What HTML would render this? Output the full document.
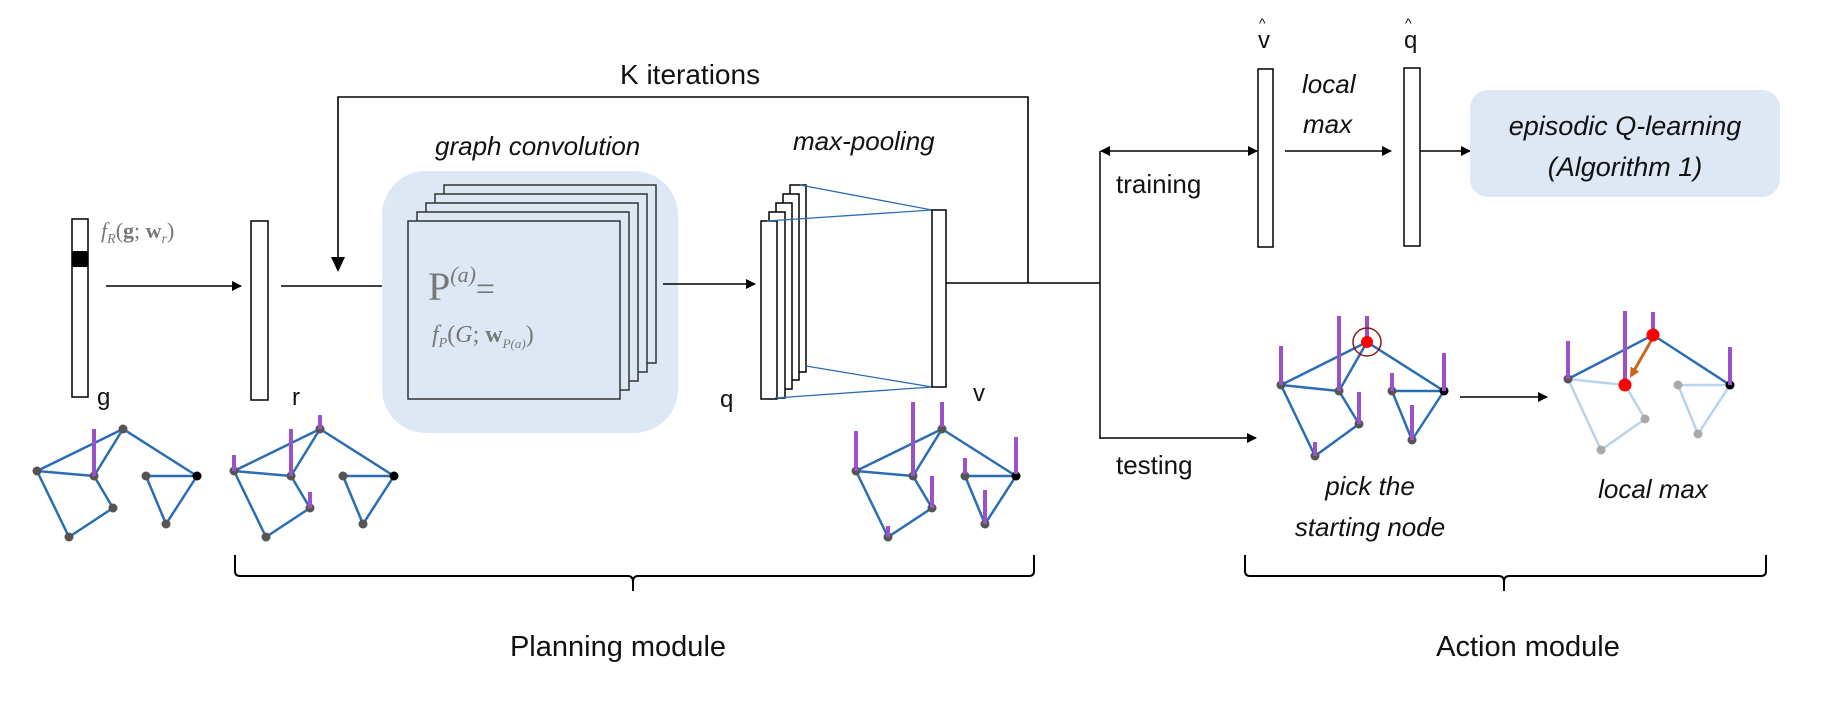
<!DOCTYPE html>
<html><head><meta charset="utf-8"><style>
html,body{margin:0;padding:0;background:#fff}
svg{display:block}
text{font-family:"Liberation Sans",sans-serif;fill:#111}
.it{font-style:italic}
.m{font-family:"Liberation Serif",serif;fill:#777}
</style></head><body>
<svg width="1842" height="708" viewBox="0 0 1842 708" xmlns="http://www.w3.org/2000/svg">
<defs>
<marker id="ah" markerWidth="10" markerHeight="10" refX="9" refY="5" orient="auto" markerUnits="userSpaceOnUse"><path d="M0,0 L10,5 L0,10 z" fill="#000"/></marker>
<marker id="ahs" markerWidth="10" markerHeight="10" refX="1" refY="5" orient="auto" markerUnits="userSpaceOnUse"><path d="M10,0 L0,5 L10,10 z" fill="#000"/></marker>
<marker id="ao" markerWidth="10" markerHeight="10" refX="8" refY="5" orient="auto" markerUnits="userSpaceOnUse"><path d="M0,0 L10,5 L0,10 z" fill="#c8661e"/></marker>
</defs>

<!-- K iterations loop -->
<text x="620" y="84" font-size="28">K iterations</text>
<polyline points="1028,283 1028,97 338,97 338,262" fill="none" stroke="#000" stroke-width="1.6"/>
<path d="M331,257 L345,257 L338,272 z" fill="#000"/>

<!-- g bar -->
<rect x="72" y="219" width="16" height="178" fill="#fff" stroke="#000" stroke-width="1.5"/>
<rect x="72" y="251" width="16" height="16" fill="#000"/>
<text class="m it" x="101" y="238" font-size="22">f<tspan font-size="14" dy="5">R</tspan><tspan dy="-5" font-style="normal">(</tspan><tspan font-style="normal" font-weight="bold">g</tspan><tspan font-style="normal">; </tspan><tspan font-style="normal" font-weight="bold">w</tspan><tspan font-size="14" dy="5">r</tspan><tspan dy="-5" font-style="normal">)</tspan></text>
<line x1="106" y1="286" x2="241" y2="286" stroke="#000" stroke-width="1.5" marker-end="url(#ah)"/>
<text x="97" y="405" font-size="24">g</text>

<!-- r bar -->
<rect x="251" y="221" width="17" height="179" fill="#fff" stroke="#000" stroke-width="1.5"/>
<line x1="281" y1="286" x2="408" y2="286" stroke="#000" stroke-width="1.5"/>
<text x="292" y="405" font-size="24">r</text>

<!-- graph convolution -->
<text class="it" x="435" y="155" font-size="26">graph convolution</text>
<rect x="382" y="171" width="296" height="262" rx="44" fill="#dde8f4"/>
<g fill="#dde8f4" stroke="#333" stroke-width="1.5">
<rect x="444" y="185" width="212" height="178"/>
<rect x="435" y="194" width="212" height="178"/>
<rect x="426" y="203" width="212" height="178"/>
<rect x="417" y="212" width="212" height="178"/>
<rect x="408" y="221" width="212" height="178"/>
</g>
<text class="m" x="428" y="300" font-size="40">P<tspan font-size="22" dy="-18" font-style="italic">(a)</tspan><tspan dy="18" font-size="34">=</tspan></text>
<text class="m it" x="432" y="342" font-size="24">f<tspan font-size="14" dy="5">P</tspan><tspan dy="-5" font-style="normal">(</tspan>G<tspan font-style="normal">; </tspan><tspan font-style="normal" font-weight="bold">w</tspan><tspan font-size="13" dy="6">P(a)</tspan><tspan dy="-6" font-style="normal">)</tspan></text>
<line x1="663" y1="284" x2="755" y2="284" stroke="#000" stroke-width="1.5" marker-end="url(#ah)"/>

<!-- max pooling -->
<text class="it" x="793" y="150" font-size="26">max-pooling</text>
<g fill="#fff" stroke="#000" stroke-width="1.5">
<rect x="790" y="185" width="16" height="187"/>
<rect x="783" y="194" width="16" height="186"/>
<rect x="776" y="203" width="16" height="186"/>
<rect x="769" y="212" width="16" height="186"/>
<rect x="761" y="221" width="16" height="178"/>
</g>
<g stroke="#2a6db5" stroke-width="1.3">
<line x1="800" y1="185" x2="932" y2="210"/>
<line x1="767" y1="221" x2="932" y2="210"/>
<line x1="806" y1="366" x2="932" y2="387"/>
<line x1="775" y1="398" x2="932" y2="387"/>
</g>
<rect x="932" y="210" width="14" height="177" fill="#fff" stroke="#000" stroke-width="1.5"/>
<text x="720" y="407" font-size="24">q</text>
<text x="973" y="401" font-size="24">v</text>

<!-- main line -->
<line x1="946" y1="283" x2="1100" y2="283" stroke="#000" stroke-width="1.5"/>
<line x1="1100" y1="151" x2="1100" y2="439" stroke="#000" stroke-width="1.5"/>
<line x1="1101" y1="151" x2="1257" y2="151" stroke="#000" stroke-width="1.5" marker-start="url(#ahs)" marker-end="url(#ah)"/>
<line x1="1100" y1="438" x2="1256" y2="438" stroke="#000" stroke-width="1.5" marker-end="url(#ah)"/>
<text x="1116" y="193" font-size="26">training</text>
<text x="1116" y="474" font-size="26">testing</text>

<!-- v-hat, q-hat -->
<text x="1258" y="48" font-size="24">v</text><text x="1259" y="28" font-size="14" fill="#888">^</text>
<text x="1404" y="48" font-size="24">q</text><text x="1405" y="28" font-size="14" fill="#888">^</text>
<rect x="1258" y="69" width="15" height="178" fill="#fff" stroke="#000" stroke-width="1.5"/>
<rect x="1404" y="68" width="16" height="178" fill="#fff" stroke="#000" stroke-width="1.5"/>
<text class="it" x="1302" y="93" font-size="26">local</text>
<text class="it" x="1303" y="133" font-size="26">max</text>
<line x1="1285" y1="151" x2="1391" y2="151" stroke="#000" stroke-width="1.5" marker-end="url(#ah)"/>
<line x1="1420" y1="151" x2="1470" y2="151" stroke="#000" stroke-width="1.5" marker-end="url(#ah)"/>
<rect x="1470" y="90" width="310" height="107" rx="18" fill="#dde8f4"/>
<text class="it" x="1625" y="135" font-size="27" text-anchor="middle">episodic Q-learning</text>
<text class="it" x="1625" y="176" font-size="27" text-anchor="middle">(Algorithm  1)</text>

<!-- graph template -->
<defs>
<g id="edges">
<line x1="37" y1="471" x2="123" y2="429"/><line x1="37" y1="471" x2="94" y2="476"/>
<line x1="94" y1="476" x2="123" y2="429"/><line x1="94" y1="476" x2="113" y2="508"/>
<line x1="113" y1="508" x2="69" y2="537"/><line x1="69" y1="537" x2="37" y2="471"/>
<line x1="123" y1="429" x2="197" y2="476"/><line x1="146" y1="476" x2="197" y2="476"/>
<line x1="146" y1="476" x2="166" y2="524"/><line x1="197" y1="476" x2="166" y2="524"/>
</g>
<g id="nodes">
<circle cx="37" cy="471" r="4.5"/><circle cx="94" cy="476" r="4.5"/><circle cx="123" cy="429" r="4.5"/>
<circle cx="113" cy="508" r="4.5"/><circle cx="69" cy="537" r="4.5"/><circle cx="146" cy="476" r="4.5"/>
<circle cx="166" cy="524" r="4.5"/>
</g>
</defs>

<!-- g graph -->
<g stroke="#2a6db5" stroke-width="2.5"><use href="#edges"/></g>
<g fill="#555"><use href="#nodes"/></g><circle cx="197" cy="476" r="4.5" fill="#000"/>
<g stroke="#9b52c9" stroke-width="4"><line x1="94" y1="429" x2="94" y2="476"/></g>

<!-- r graph -->
<g transform="translate(197,0)">
<g stroke="#2a6db5" stroke-width="2.5"><use href="#edges"/></g>
<g fill="#555"><use href="#nodes"/></g><circle cx="197" cy="476" r="4.5" fill="#000"/>
<g stroke="#9b52c9" stroke-width="4">
<line x1="37" y1="455" x2="37" y2="471"/><line x1="94" y1="429" x2="94" y2="476"/>
<line x1="123" y1="415" x2="123" y2="429"/><line x1="113" y1="492" x2="113" y2="508"/>
</g></g>

<!-- v graph -->
<g transform="translate(819,0)">
<g stroke="#2a6db5" stroke-width="2.5"><use href="#edges"/></g>
<g fill="#555"><use href="#nodes"/></g><circle cx="197" cy="476" r="4.5" fill="#000"/>
<g stroke="#9b52c9" stroke-width="4">
<line x1="37" y1="431" x2="37" y2="471"/><line x1="94" y1="402" x2="94" y2="476"/>
<line x1="123" y1="402" x2="123" y2="427"/><line x1="113" y1="476" x2="113" y2="508"/>
<line x1="69" y1="526" x2="69" y2="537"/><line x1="146" y1="458" x2="146" y2="474"/>
<line x1="197" y1="437" x2="197" y2="474"/><line x1="166" y1="490" x2="166" y2="524"/>
</g></g>

<!-- pick graph -->
<g stroke="#2a6db5" stroke-width="2.5">
<line x1="1281" y1="385" x2="1367" y2="342"/><line x1="1281" y1="385" x2="1339" y2="391"/>
<line x1="1339" y1="391" x2="1367" y2="342"/><line x1="1339" y1="391" x2="1359" y2="424"/>
<line x1="1359" y1="424" x2="1315" y2="456"/><line x1="1315" y1="456" x2="1281" y2="385"/>
<line x1="1367" y1="342" x2="1444" y2="391"/><line x1="1392" y1="391" x2="1444" y2="391"/>
<line x1="1392" y1="391" x2="1412" y2="440"/><line x1="1444" y1="391" x2="1412" y2="440"/>
</g>
<g fill="#555">
<circle cx="1281" cy="385" r="4.5"/><circle cx="1339" cy="391" r="4.5"/><circle cx="1359" cy="424" r="4.5"/>
<circle cx="1315" cy="456" r="4.5"/><circle cx="1392" cy="391" r="4.5"/><circle cx="1412" cy="440" r="4.5"/>
</g>
<circle cx="1444" cy="391" r="4.5" fill="#000"/>
<g stroke="#9b52c9" stroke-width="4">
<line x1="1281" y1="346" x2="1281" y2="385"/><line x1="1339" y1="316" x2="1339" y2="391"/>
<line x1="1367" y1="316" x2="1367" y2="338"/><line x1="1359" y1="392" x2="1359" y2="424"/>
<line x1="1315" y1="442" x2="1315" y2="456"/><line x1="1392" y1="373" x2="1392" y2="391"/>
<line x1="1444" y1="353" x2="1444" y2="391"/><line x1="1412" y1="405" x2="1412" y2="440"/>
</g>
<circle cx="1367" cy="342" r="6" fill="#f00"/>
<circle cx="1367" cy="342" r="14" fill="none" stroke="#8b1a1a" stroke-width="1.5"/>
<line x1="1460" y1="397" x2="1547" y2="397" stroke="#000" stroke-width="1.5" marker-end="url(#ah)"/>
<text class="it" x="1370" y="495" font-size="26" text-anchor="middle">pick the</text>
<text class="it" x="1370" y="536" font-size="26" text-anchor="middle">starting node</text>

<!-- local max graph -->
<g stroke="#b8d3ec" stroke-width="2.5">
<line x1="1568" y1="379" x2="1625" y2="385"/><line x1="1625" y1="385" x2="1645" y2="419"/>
<line x1="1645" y1="419" x2="1601" y2="450"/><line x1="1601" y1="450" x2="1568" y2="379"/>
<line x1="1678" y1="385" x2="1730" y2="385"/><line x1="1678" y1="385" x2="1698" y2="434"/>
<line x1="1730" y1="385" x2="1698" y2="434"/>
</g>
<g stroke="#2a6db5" stroke-width="2.5">
<line x1="1568" y1="379" x2="1653" y2="335"/><line x1="1653" y1="335" x2="1730" y2="385"/>
</g>
<g fill="#aaa">
<circle cx="1645" cy="419" r="4.5"/><circle cx="1601" cy="450" r="4.5"/><circle cx="1678" cy="385" r="4.5"/><circle cx="1698" cy="434" r="4.5"/>
</g>
<circle cx="1568" cy="379" r="4.5" fill="#555"/><circle cx="1730" cy="385" r="4.5" fill="#000"/>
<g stroke="#9b52c9" stroke-width="4">
<line x1="1568" y1="341" x2="1568" y2="379"/><line x1="1625" y1="311" x2="1625" y2="385"/>
<line x1="1653" y1="312" x2="1653" y2="335"/><line x1="1730" y1="347" x2="1730" y2="385"/>
</g>
<line x1="1651" y1="341" x2="1631" y2="376" stroke="#c8661e" stroke-width="3" marker-end="url(#ao)"/>
<circle cx="1653" cy="335" r="6.5" fill="#f00"/><circle cx="1625" cy="385" r="6.5" fill="#f00"/>
<text class="it" x="1653" y="498" font-size="26" text-anchor="middle">local max</text>

<!-- brackets -->
<path d="M235,555 L235,571 Q235,576 240,576 L628,576 Q633,576 633,582 L633,591 M633,582 Q633,576 638,576 L1029,576 Q1034,576 1034,571 L1034,555" fill="none" stroke="#000" stroke-width="2"/>
<text x="618" y="656" font-size="29" text-anchor="middle">Planning module</text>
<path d="M1245,555 L1245,571 Q1245,576 1250,576 L1499,576 Q1504,576 1504,582 L1504,591 M1504,582 Q1504,576 1509,576 L1761,576 Q1766,576 1766,571 L1766,555" fill="none" stroke="#000" stroke-width="2"/>
<text x="1528" y="656" font-size="29" text-anchor="middle">Action module</text>
</svg>
</body></html>
